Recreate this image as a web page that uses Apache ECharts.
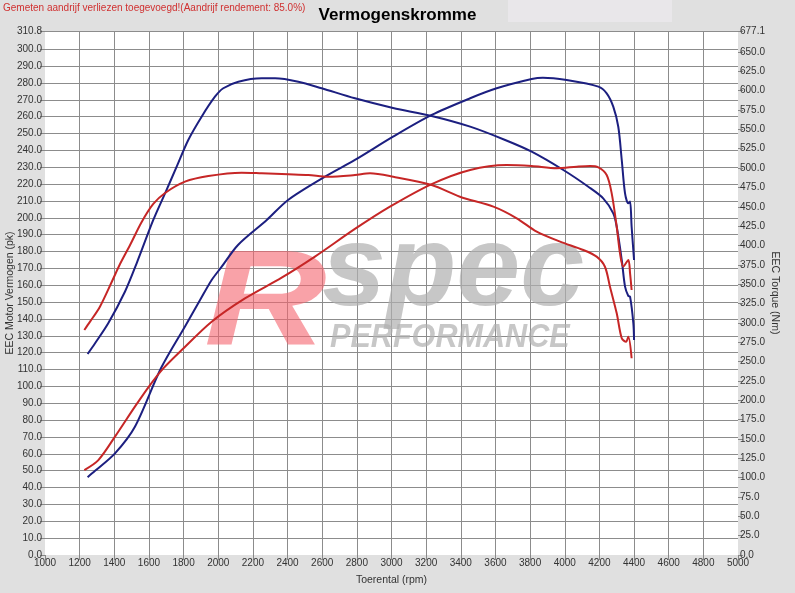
<!DOCTYPE html>
<html>
<head>
<meta charset="utf-8">
<script src="https://cdn.jsdelivr.net/npm/echarts@6/dist/echarts.min.js"></script>
<style>
html,body{margin:0;padding:0;background:#e0e0e0;}
#c{width:795px;height:593px;}
</style>
</head>
<body>
<div id="c"></div>
<script>
// ---- data ----
var titleText = 'Vermogenskromme';
var noteText = 'Gemeten aandrijf verliezen toegevoegd!(Aandrijf rendement: 85.0%)';
var xName = 'Toerental (rpm)';
var yLeftName = 'EEC Motor Vermogen (pk)';
var yRightName = 'EEC Torque (Nm)';

var bluePowerRpm = [1246,1289,1404,1519,1670,1808,1895,1962,2020,2114,2280,2403,2616,2789,3009,3232,3454,3607,3809,3874,4011,4194,4242,4280,4309,4329,4348,4367,4377,4386,4400];
var bluePowerVal = [46.1,49.9,60.3,76.1,110.9,135.6,151.2,163.1,171.0,183.9,198.7,210.6,224.4,234.3,248.1,261.0,270.9,276.8,282.3,283.1,281.7,277.8,273.8,265.9,254.0,234.3,214.5,208.6,209.6,194.7,175.0];

var blueTorqueRpm = [1246,1289,1365,1462,1529,1625,1693,1760,1827,1904,1981,2029,2116,2251,2328,2462,2597,2789,3009,3232,3454,3656,3809,3992,4136,4222,4280,4300,4329,4348,4367,4377,4396,4400];
var blueTorqueVal = [259.7,273.6,299.4,340.5,376.9,432.9,467.4,501.8,536.3,566.4,592.2,603.1,611.6,616.0,616.0,611.6,603.1,590.1,577.6,567.3,553.5,536.3,521.2,497.5,475.9,460.9,441.5,424.2,381.2,346.7,334.7,333.8,299.4,277.8];

var redPowerRpm = [1227,1308,1404,1519,1606,1683,1789,1962,2154,2366,2558,2789,2991,3232,3454,3665,3809,3954,4069,4146,4194,4242,4271,4300,4319,4338,4367,4377,4386];
var redPowerVal = [50.4,56.3,70.2,88.0,100.8,110.7,121.6,138.4,152.2,164.5,177.0,193.4,206.6,220.0,228.4,231.3,230.7,229.4,230.3,230.7,229.9,225.4,214.5,194.7,178.9,171.0,175.0,167.1,157.2];

var redTorqueRpm = [1227,1260,1317,1385,1433,1491,1558,1625,1693,1808,1943,2135,2251,2404,2520,2635,2789,2876,3010,3232,3395,3588,3723,3838,3973,4107,4184,4232,4261,4300,4329,4354,4367,4386];
var redTorqueVal = [290.7,301.5,320.9,352.8,376.0,400.6,430.3,453.6,467.8,482.4,489.7,494.0,493.2,492.0,491.0,488.8,491.0,493.2,488.8,478.1,463.0,450.1,435.1,417.8,404.9,394.1,385.5,372.5,346.7,312.3,280.0,275.6,282.1,254.2];

var leftTicks = [0,10,20,30,40,50,60,70,80,90,100,110,120,130,140,150,160,170,180,190,200,210,220,230,240,250,260,270,280,290,300,310.8];
var rightTicks = [0,25,50,75,100,125,150,175,200,225,250,275,300,325,350,375,400,425,450,475,500,525,550,575,600,625,650,677.1];

function pairs(xs, ys){ return xs.map(function(x,i){ return [x, ys[i]]; }); }

var FONT = 'Liberation Sans';
var chart = echarts.init(document.getElementById('c'), null, {renderer:'canvas'});
var labelStyle = {color:'#333', fontSize:10, fontFamily:FONT};
var nameStyle = {color:'#333', fontSize:10.5, fontFamily:FONT};

chart.setOption({
  animation:false,
  backgroundColor:'#e0e0e0',
  title:{
    text:titleText, left:'center', top:2,
    textStyle:{fontFamily:FONT, fontWeight:'bold', fontSize:17, color:'#000'}
  },
  graphic:[
    {type:'rect', left:508, top:0, shape:{width:164, height:22}, style:{fill:'#e9e7ea'}, z:-1},
    {type:'text', left:3, top:3, style:{text:noteText, fill:'#d03030', font:'10px "Liberation Sans"'}},
    {type:'text', left:204, top:238, z:1, scaleX:1.25, style:{text:'R', fill:'rgba(245,100,110,0.6)', font:'italic bold 136px "Liberation Sans"'}},
    {type:'text', left:322, top:216, z:1, style:{text:'spec', fill:'rgba(175,175,175,0.7)', font:'italic bold 115px "Liberation Sans"'}},
    {type:'text', left:330, top:321, z:1, scaleX:0.9, style:{text:'PERFORMANCE', fill:'rgba(175,175,175,0.7)', font:'italic bold 34px "Liberation Sans"'}}
  ],
  grid:{left:45, right:57, top:31, bottom:38, backgroundColor:'#fff', show:true, borderWidth:0, outerBoundsMode:'none', containLabel:false},
  xAxis:{
    type:'value', min:1000, max:5000, interval:200,
    name:xName, nameLocation:'middle', nameGap:20, nameMoveOverlap:false,
    nameTextStyle:nameStyle,
    axisLine:{show:false},
    axisTick:{show:true, length:5, lineStyle:{color:'#888'}},
    axisLabel:Object.assign({margin:3, formatter:function(v){return String(v);}}, labelStyle),
    splitLine:{show:true, showMinLine:false, showMaxLine:false, lineStyle:{color:'#8c8c8c', width:1}}
  },
  yAxis:[
    {
      type:'value', min:0, max:310.8, position:'left',
      name:yLeftName, nameLocation:'middle', nameGap:29, nameRotate:90, nameMoveOverlap:false,
      nameTextStyle:nameStyle,
      axisLine:{show:false},
      axisTick:{show:true, length:5, customValues:leftTicks, lineStyle:{color:'#888'}},
      axisLabel:Object.assign({margin:3, customValues:leftTicks, formatter:function(v){return v.toFixed(1);}}, labelStyle),
      splitLine:{show:true, showMinLine:false, showMaxLine:true, lineStyle:{color:'#8c8c8c', width:1}}
    },
    {
      type:'value', min:0, max:677.1, position:'right',
      name:yRightName, nameLocation:'middle', nameGap:31, nameRotate:-90, nameMoveOverlap:false,
      nameTextStyle:nameStyle,
      axisLine:{show:false},
      axisTick:{show:true, length:5, customValues:rightTicks, lineStyle:{color:'#888'}},
      axisLabel:Object.assign({margin:2, customValues:rightTicks, formatter:function(v){return v.toFixed(1);}}, labelStyle),
      splitLine:{show:false}
    }
  ],
  series:[
    {type:'line', name:'bluePower', yAxisIndex:0, data:pairs(bluePowerRpm,bluePowerVal), smooth:0.3, showSymbol:false, z:5, lineStyle:{color:'#1c1f80', width:2}},
    {type:'line', name:'blueTorque', yAxisIndex:1, data:pairs(blueTorqueRpm,blueTorqueVal), smooth:0.3, showSymbol:false, z:5, lineStyle:{color:'#1c1f80', width:2}},
    {type:'line', name:'redPower', yAxisIndex:0, data:pairs(redPowerRpm,redPowerVal), smooth:0.3, showSymbol:false, z:5, lineStyle:{color:'#c62626', width:2}},
    {type:'line', name:'redTorque', yAxisIndex:1, data:pairs(redTorqueRpm,redTorqueVal), smooth:0.3, showSymbol:false, z:5, lineStyle:{color:'#c62626', width:2}}
  ]
});
</script>
</body>
</html>
